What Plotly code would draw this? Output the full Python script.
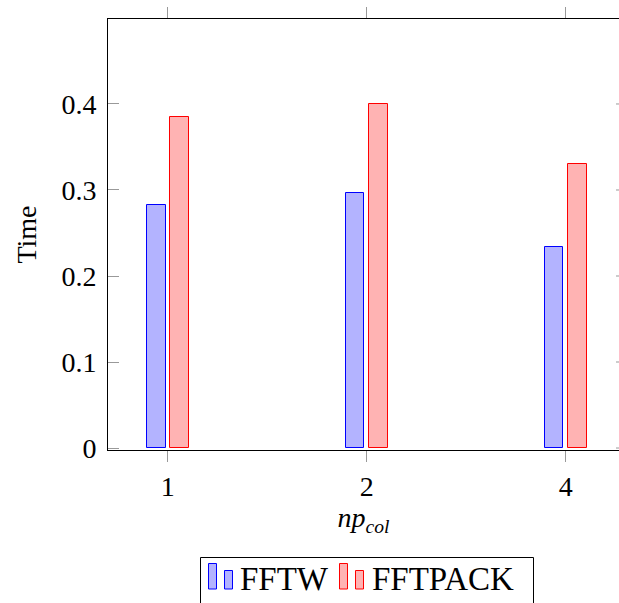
import plotly.graph_objects as go

# Timing results per column-process count
np_col = ["1", "2", "4"]
fftw_time = [0.283, 0.2965, 0.234]
fftpack_time = [0.385, 0.400, 0.330]
y_ticks = [0, 0.1, 0.2, 0.3, 0.4]
y_tick_text = ["0", "0.1", "0.2", "0.3", "0.4"]
series_names = ["FFTW", "FFTPACK"]
fills = ["#B3B3FF", "#FFB3B3"]
edges = ["#0000FF", "#FF0000"]

FONT = "Liberation Serif, Times New Roman, serif"
W, H = 619, 603
L, R, T, B = 108, 0, 19, 153
PW, PH = W - L - R, H - T - B


def px(x):
    return (x - L) / PW


def py(y):
    return (H - B - y) / PH


fig = go.Figure()
offsets = [-0.105, 0.011]
for name, vals, fc, ec, off in zip(series_names, [fftw_time, fftpack_time], fills, edges, offsets):
    fig.add_trace(go.Bar(
        name=name, x=np_col, y=vals, width=0.094, offset=off, showlegend=False,
        marker=dict(color=fc, line=dict(color=ec, width=1)),
    ))

# mirrored y ticks along the (clipped) right edge
for v in y_ticks:
    fig.add_shape(type="line", xref="paper", yref="y", x0=1 - 3 / PW, x1=1,
                  y0=v, y1=v, line=dict(color="#999999", width=1))

# legend box with pgfplots-style double-bar icons
fig.add_shape(type="rect", xref="paper", yref="paper",
              x0=px(200.5), x1=px(533.5), y0=py(557.5), y1=py(610),
              line=dict(color="black", width=1), fillcolor="white")
entries = [(208, 240), (339, 372)]
for (ix, tx), name, fc, ec in zip(entries, series_names, fills, edges):
    for dx, top in [(0, 563.5), (16, 570.5)]:
        fig.add_shape(type="rect", xref="paper", yref="paper",
                      x0=px(ix + dx + 0.5), x1=px(ix + dx + 8.5), y0=py(589), y1=py(top),
                      line=dict(color=ec, width=1), fillcolor=fc)
    fig.add_annotation(text=name, xref="paper", yref="paper", x=px(tx - 2), y=py(579),
                       xanchor="left", yanchor="middle", showarrow=False,
                       font=dict(family=FONT, size=33, color="black"))

fig.update_layout(
    width=W, height=H,
    margin=dict(l=L, r=R, t=T, b=B, pad=0, autoexpand=False),
    paper_bgcolor="white", plot_bgcolor="white",
    font=dict(family=FONT, size=28, color="black"),
    showlegend=False,
    bargap=0,
)
fig.update_xaxes(
    type="category", range=[-0.3, 2.268], automargin=False,
    showline=True, linecolor="black", linewidth=1, mirror="ticks",
    ticks="outside", ticklen=11, tickcolor="#999999", tickwidth=1,
    showgrid=False, zeroline=False,
    tickfont=dict(family=FONT, size=28),
    title=dict(text="<i>np</i><sub><i>col</i></sub>", font=dict(family=FONT, size=28), standoff=6),
)
fig.update_yaxes(
    range=[-0.0023, 0.4988], automargin=False,
    tickvals=y_ticks, ticktext=y_tick_text,
    showline=True, linecolor="black", linewidth=1, mirror=False,
    ticks="inside", ticklen=11, tickcolor="#999999", tickwidth=1,
    showgrid=False, zeroline=False,
    tickfont=dict(family=FONT, size=28), ticklabelstandoff=5,
    title=dict(text="Time", font=dict(family=FONT, size=28), standoff=16),
)

fig.write_html("out.html")
